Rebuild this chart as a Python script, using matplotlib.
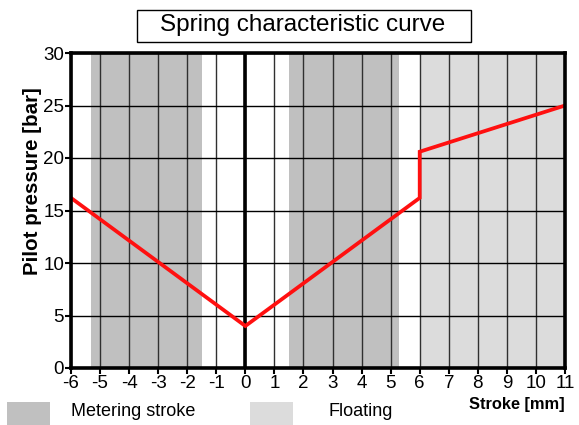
import matplotlib.pyplot as plt
from matplotlib.patches import Rectangle

plt.rcParams['font.family'] = ['Liberation Sans', 'DejaVu Sans']
plt.rcParams['axes.unicode_minus'] = False

# spring characteristic: stroke [mm] vs pilot pressure [bar]
stroke = [-6, 0, 6, 6, 11]
pressure = [16.2, 4, 16.2, 20.6, 25]

# shaded stroke ranges
metering_ranges = [(-5.3, -1.5), (1.5, 5.3)]
floating_range = (6, 11)

x_ticks = list(range(-6, 12))
y_ticks = [0, 5, 10, 15, 20, 25, 30]

metering_color = '#c0c0c0'
floating_color = '#dcdcdc'

W, H = 579, 425
fig = plt.figure(figsize=(W / 100, H / 100), dpi=100)
ax = fig.add_axes([71 / W, 1 - 368 / H, 494 / W, 315 / H])

for a, b in metering_ranges:
    ax.axvspan(a, b, color=metering_color, lw=0, zorder=0)
ax.axvspan(floating_range[0], floating_range[1], color=floating_color, lw=0, zorder=0)

# grid
for x in x_ticks:
    ax.axvline(x, color='#303030', lw=1, zorder=1)
for y in y_ticks:
    ax.axhline(y, color='black', lw=1, zorder=1)
ax.axvline(0, color='black', lw=2.6, zorder=2)

ax.plot(stroke, pressure, color='#ff1010', lw=2.7, zorder=3, solid_joinstyle='miter')

ax.set_xlim(-6, 11)
ax.set_ylim(0, 30)
ax.set_xticks(x_ticks)
ax.set_yticks(y_ticks)
ax.tick_params(axis='both', labelsize=13.5, length=4, width=1.5, pad=1, color='black')
for s in ax.spines.values():
    s.set_linewidth(2.6)
    s.set_zorder(4)

fig.text(33 / W, 1 - 181 / H, 'Pilot pressure [bar]', fontsize=14.8, fontweight='bold',
         rotation=90, ha='center', va='center')
fig.text(565 / W, 1 - 405 / H, 'Stroke [mm]', fontsize=11.8, fontweight='bold',
         ha='right', va='center')

# title in a box
fig.patches.append(Rectangle((137 / W, 1 - 42 / H), 334 / W, 32 / H, transform=fig.transFigure,
                             fc='white', ec='black', lw=1))
fig.text(303 / W, 1 - 25 / H, 'Spring characteristic curve', fontsize=17.5,
         ha='center', va='center')

# legend
fig.patches.append(Rectangle((7 / W, 0), 43 / W, 23 / H, transform=fig.transFigure,
                             color=metering_color, lw=0))
fig.patches.append(Rectangle((250 / W, 0), 43 / W, 23 / H, transform=fig.transFigure,
                             color=floating_color, lw=0))
fig.text(71 / W, 1 - 412 / H, 'Metering stroke', fontsize=13, ha='left', va='center')
fig.text(328 / W, 1 - 412 / H, 'Floating', fontsize=13, ha='left', va='center')

fig.savefig('out.png', dpi=100)
